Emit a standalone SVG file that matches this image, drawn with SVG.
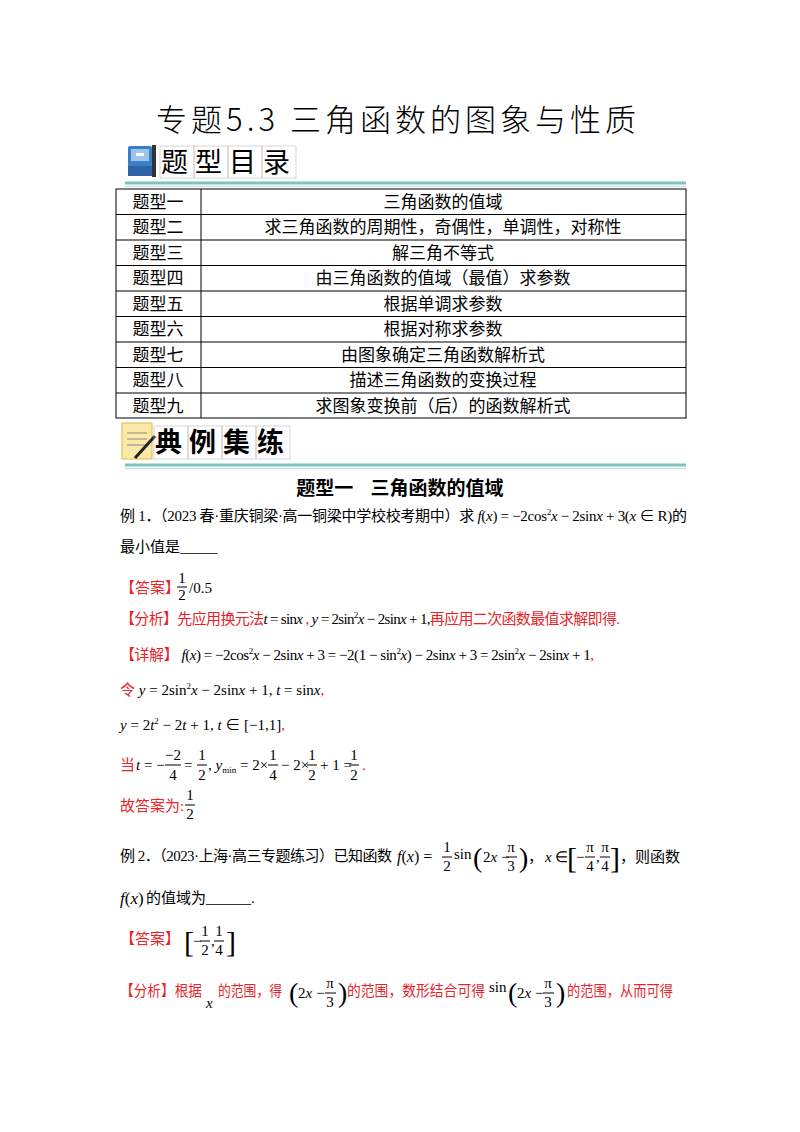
<svg xmlns="http://www.w3.org/2000/svg" width="800" height="1132" viewBox="0 0 800 1132">
<style>
.cn{font-family:"Noto Sans CJK SC",sans-serif}
.sf{font-family:"Liberation Serif","Noto Sans CJK SC",serif;font-size:15px}
.m{font-family:"Liberation Serif",serif;font-size:15px}
.i{font-style:italic}
.r{fill:#e8242a}
.tb{font-family:"Noto Sans CJK SC",sans-serif;font-size:17px;text-anchor:middle}
.cell{fill:none;stroke:#000;stroke-width:1}
.hd{font-family:"Noto Sans CJK SC",sans-serif;font-size:27px}
.bx{fill:none;stroke:#bbb;stroke-width:0.6}
.bar{stroke:#7fc3be;stroke-width:3}
.bar2{stroke:#c9e2e0;stroke-width:1.5}
.fl{stroke:#000;stroke-width:1}
</style>
<rect width="800" height="1132" fill="#fff"/>
<text x="398" y="131" class="cn" font-size="31" font-weight="300" text-anchor="middle" letter-spacing="4">专题5.3 三角函数的图象与性质</text>
<g id="hdr1">
<rect x="128" y="146" width="24" height="30" rx="2" fill="#3a7dc8"/>
<rect x="131" y="149" width="18" height="12" fill="#9ec6ea"/>
<rect x="136" y="153" width="8" height="3" fill="#fff"/>
<rect x="128" y="166" width="24" height="10" fill="#2f63a8"/>
<rect x="152" y="145" width="4" height="32" fill="#333"/>
<rect x="160" y="146" width="34" height="32" class="bx"/><rect x="194" y="146" width="34" height="32" class="bx"/><rect x="228" y="146" width="34" height="32" class="bx"/><rect x="262" y="146" width="34" height="32" class="bx"/>
<text x="161" y="172" class="hd" letter-spacing="7">题型目录</text>
<line x1="125" y1="183" x2="686" y2="183" class="bar"/><line x1="125" y1="186.5" x2="686" y2="186.5" class="bar2"/>
</g>
<g id="table">
<rect x="116" y="189" width="570" height="229" class="cell"/>
<line x1="201" y1="189" x2="201" y2="418" stroke="#000"/>
<g stroke="#000"><line x1="116" y1="214.5" x2="686" y2="214.5"/><line x1="116" y1="240" x2="686" y2="240"/><line x1="116" y1="265.5" x2="686" y2="265.5"/><line x1="116" y1="291" x2="686" y2="291"/><line x1="116" y1="316.5" x2="686" y2="316.5"/><line x1="116" y1="342" x2="686" y2="342"/><line x1="116" y1="367.5" x2="686" y2="367.5"/><line x1="116" y1="393" x2="686" y2="393"/></g>
<g class="tb">
<text x="158" y="208">题型一</text><text x="443" y="208">三角函数的值域</text>
<text x="158" y="233">题型二</text><text x="443" y="233">求三角函数的周期性，奇偶性，单调性，对称性</text>
<text x="158" y="259">题型三</text><text x="443" y="259">解三角不等式</text>
<text x="158" y="284">题型四</text><text x="443" y="284">由三角函数的值域（最值）求参数</text>
<text x="158" y="310">题型五</text><text x="443" y="310">根据单调求参数</text>
<text x="158" y="335">题型六</text><text x="443" y="335">根据对称求参数</text>
<text x="158" y="361">题型七</text><text x="443" y="361">由图象确定三角函数解析式</text>
<text x="158" y="386">题型八</text><text x="443" y="386">描述三角函数的变换过程</text>
<text x="158" y="412">题型九</text><text x="443" y="412">求图象变换前（后）的函数解析式</text>
</g>
</g>
<g id="hdr2">
<rect x="122" y="423" width="30" height="36" fill="#fbe9a8" stroke="#e0b84a"/>
<g stroke="#888" stroke-width="1"><line x1="127" y1="433" x2="147" y2="433"/><line x1="127" y1="439" x2="147" y2="439"/><line x1="127" y1="445" x2="147" y2="445"/></g>
<line x1="135" y1="458" x2="155" y2="436" stroke="#222" stroke-width="3"/>
<rect x="154" y="426" width="34" height="33" class="bx"/><rect x="188" y="426" width="34" height="33" class="bx"/><rect x="222" y="426" width="34" height="33" class="bx"/><rect x="256" y="426" width="34" height="33" class="bx"/>
<text x="155" y="452" class="hd" font-weight="bold" letter-spacing="7">典例集练</text>
<line x1="125" y1="465" x2="686" y2="465" class="bar"/><line x1="125" y1="468.5" x2="686" y2="468.5" class="bar2"/>
</g>
<text x="400" y="495" class="cn" font-size="19" font-weight="bold" text-anchor="middle" xml:space="preserve">题型一    三角函数的值域</text>
<g id="ex1">
<text x="120" y="521" class="sf" textLength="567" lengthAdjust="spacing">例 1．（2023 春·重庆铜梁·高一铜梁中学校校考期中）求 <tspan class="i">f</tspan>(<tspan class="i">x</tspan>) = −2cos<tspan font-size="9" dy="-6">2</tspan><tspan dy="6" class="i">x</tspan> − 2sin<tspan class="i">x</tspan> + 3(<tspan class="i">x</tspan> ∈ R)的</text>
<text x="120" y="552" class="sf">最小值是_____</text>
<text x="120" y="593" class="sf r">【答案】</text>
<text x="182" y="583" class="m" font-size="13" text-anchor="middle">1</text><line x1="177" y1="587" x2="187" y2="587" class="fl"/><text x="182" y="600" class="m" font-size="13" text-anchor="middle">2</text>
<text x="189" y="593" class="m">/0.5</text>
<text x="120" y="624" class="sf" textLength="500" lengthAdjust="spacing"><tspan class="r">【分析】先应用换元法</tspan><tspan class="i">t</tspan> = sin<tspan class="i">x</tspan><tspan class="r"> , </tspan><tspan class="i">y</tspan> = 2sin<tspan font-size="9" dy="-6">2</tspan><tspan dy="6" class="i">x</tspan> − 2sin<tspan class="i">x</tspan> + 1,<tspan class="r">再应用二次函数最值求解即得.</tspan></text>
<text x="120" y="660" class="sf" textLength="474" lengthAdjust="spacing"><tspan class="r">【详解】</tspan> <tspan class="i">f</tspan>(<tspan class="i">x</tspan>) = −2cos<tspan font-size="9" dy="-6">2</tspan><tspan dy="6" class="i">x</tspan> − 2sin<tspan class="i">x</tspan> + 3 = −2(1 − sin<tspan font-size="9" dy="-6">2</tspan><tspan dy="6" class="i">x</tspan>) − 2sin<tspan class="i">x</tspan> + 3 = 2sin<tspan font-size="9" dy="-6">2</tspan><tspan dy="6" class="i">x</tspan> − 2sin<tspan class="i">x</tspan> + 1<tspan class="r">,</tspan></text>
<text x="120" y="695" class="sf"><tspan class="r">令</tspan> <tspan class="i">y</tspan> = 2sin<tspan font-size="9" dy="-6">2</tspan><tspan dy="6" class="i">x</tspan> − 2sin<tspan class="i">x</tspan> + 1, <tspan class="i">t</tspan> = sin<tspan class="i">x</tspan><tspan class="r">,</tspan></text>
<text x="120" y="730" class="sf"><tspan class="i">y</tspan> = 2<tspan class="i">t</tspan><tspan font-size="9" dy="-6">2</tspan><tspan dy="6"> − 2</tspan><tspan class="i">t</tspan> + 1, <tspan class="i">t</tspan> ∈ [−1,1]<tspan class="r">,</tspan></text>
<g class="m">
<text x="120" y="770" class="sf r">当</text>
<text x="136" y="770"><tspan class="i">t</tspan> = −</text>
<text x="173" y="760" text-anchor="middle">−2</text><line x1="165" y1="765" x2="181" y2="765" class="fl"/><text x="173" y="780" text-anchor="middle">4</text>
<text x="184" y="770">=</text>
<text x="202" y="760" text-anchor="middle">1</text><line x1="197" y1="765" x2="207" y2="765" class="fl"/><text x="202" y="780" text-anchor="middle">2</text>
<text x="208" y="770">, <tspan class="i">y</tspan><tspan font-size="9" dy="3">min</tspan></text>
<text x="240" y="770">= 2×</text>
<text x="273" y="760" text-anchor="middle">1</text><line x1="268" y1="765" x2="278" y2="765" class="fl"/><text x="273" y="780" text-anchor="middle">4</text>
<text x="281" y="770">− 2×</text>
<text x="312" y="760" text-anchor="middle">1</text><line x1="307" y1="765" x2="317" y2="765" class="fl"/><text x="312" y="780" text-anchor="middle">2</text>
<text x="320" y="770">+ 1 =</text>
<text x="354" y="760" text-anchor="middle">1</text><line x1="349" y1="765" x2="359" y2="765" class="fl"/><text x="354" y="780" text-anchor="middle">2</text>
<text x="362" y="770" class="r">.</text>
<text x="120" y="811" class="sf r">故答案为:</text>
<text x="190" y="800" text-anchor="middle">1</text><line x1="185" y1="805" x2="195" y2="805" class="fl"/><text x="190" y="819" text-anchor="middle">2</text>
</g>
</g>
<g id="ex2" class="m">
<text x="120" y="861" class="sf" textLength="272" lengthAdjust="spacing">例 2．（2023·上海·高三专题练习）已知函数</text>
<text x="397" y="862" font-size="16"><tspan class="i">f</tspan>(<tspan class="i">x</tspan>) =</text>
<text x="447" y="852" text-anchor="middle">1</text><line x1="442" y1="857" x2="452" y2="857" class="fl"/><text x="447" y="871" text-anchor="middle">2</text>
<text x="454" y="859">sin</text>
<text x="473" y="867" font-size="28">(</text>
<text x="483" y="862">2<tspan class="i">x</tspan> −</text>
<text x="511" y="852" text-anchor="middle">π</text><line x1="506" y1="857" x2="517" y2="857" class="fl"/><text x="511" y="871" text-anchor="middle">3</text>
<text x="519" y="867" font-size="28">)</text>
<text x="528" y="862" class="sf">，</text>
<text x="545" y="862"><tspan class="i">x</tspan> ∈</text>
<text x="567" y="868" font-size="30">[</text>
<text x="576" y="862">−</text>
<text x="590" y="852" text-anchor="middle">π</text><line x1="585" y1="857" x2="595" y2="857" class="fl"/><text x="590" y="871" text-anchor="middle">4</text>
<text x="596" y="862">,</text>
<text x="605" y="852" text-anchor="middle">π</text><line x1="600" y1="857" x2="610" y2="857" class="fl"/><text x="605" y="871" text-anchor="middle">4</text>
<text x="610" y="868" font-size="30">]</text>
<text x="620" y="862" class="sf">，则函数</text>
<text x="120" y="904" font-size="17"><tspan class="i">f</tspan>(<tspan class="i">x</tspan>)</text>
<text x="146" y="903" class="sf">的值域为______.</text>
<text x="120" y="944" class="sf r">【答案】</text>
<text x="184" y="952" font-size="30">[</text>
<text x="193" y="946">−</text>
<text x="205" y="936" text-anchor="middle">1</text><line x1="200" y1="941" x2="210" y2="941" class="fl"/><text x="205" y="955" text-anchor="middle">2</text>
<text x="211" y="946">,</text>
<text x="219" y="936" text-anchor="middle">1</text><line x1="214" y1="941" x2="224" y2="941" class="fl"/><text x="219" y="955" text-anchor="middle">4</text>
<text x="226" y="952" font-size="30">]</text>
<text x="120" y="996" class="sf r" textLength="82" lengthAdjust="spacingAndGlyphs">【分析】根据</text>
<text x="206" y="1008" class="i">x</text>
<text x="218" y="996" class="sf r" textLength="64" lengthAdjust="spacingAndGlyphs">的范围，得</text>
<text x="289" y="1002" font-size="28">(</text>
<text x="298" y="998">2<tspan class="i">x</tspan> −</text>
<text x="330" y="988" text-anchor="middle">π</text><line x1="325" y1="993" x2="336" y2="993" class="fl"/><text x="330" y="1007" text-anchor="middle">3</text>
<text x="338" y="1002" font-size="28">)</text>
<text x="347" y="996" class="sf r" textLength="138" lengthAdjust="spacingAndGlyphs">的范围，数形结合可得</text>
<text x="489" y="992">sin</text>
<text x="508" y="1002" font-size="28">(</text>
<text x="517" y="998">2<tspan class="i">x</tspan> −</text>
<text x="548" y="988" text-anchor="middle">π</text><line x1="543" y1="993" x2="554" y2="993" class="fl"/><text x="548" y="1007" text-anchor="middle">3</text>
<text x="556" y="1002" font-size="28">)</text>
<text x="567" y="996" class="sf r" textLength="106" lengthAdjust="spacingAndGlyphs">的范围，从而可得</text>
</g>
</svg>
